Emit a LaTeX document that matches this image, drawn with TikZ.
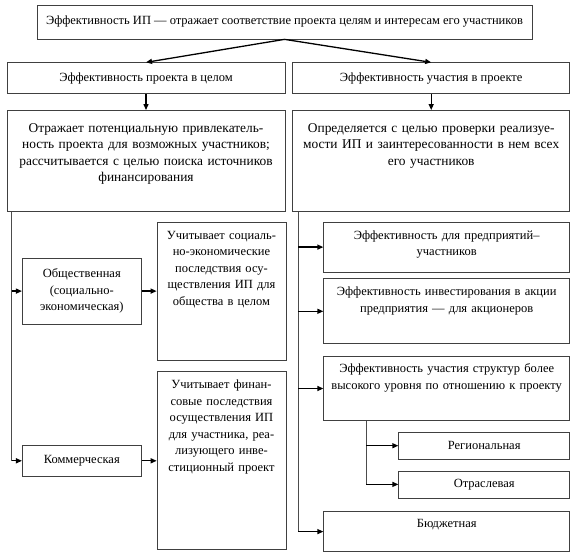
\documentclass[tikz,border=0pt]{standalone}
\usepackage{fontspec}
\setmainfont{Liberation Serif}
\usetikzlibrary{arrows.meta, positioning}

\tikzset{
  box/.style={draw=black!75, line width=0.7pt, rectangle, inner xsep=0pt, inner ysep=0pt,
    align=center, font=\fontsize{12.5}{16.5}\selectfont},
  tbox/.style={box, text width=#1, text height=17pt},
  bigtext/.style={font=\fontsize{13.4}{16.5}\selectfont},
  conn/.style={draw=black!70, line width=0.7pt},
  arr/.style={-{Triangle[length=6pt, width=5pt]}, line width=1.3pt},
}

\begin{document}
\begin{tikzpicture}
    \useasboundingbox (0,0) rectangle (574pt,-555pt);

    % top level
    \node[box, minimum width=495pt, minimum height=34pt] (eff) at (284.5pt,-22pt)
        {Эффективность ИП — отражает соответствие проекта целям и интересам его участников};
    \node[box, minimum width=278pt, minimum height=31pt, below=23pt of eff.south west, xshift=-30pt, anchor=north west] (projL)
        {Эффективность проекта в целом};
    \node[box, minimum width=277pt, minimum height=31pt, right=7pt of projL] (projR)
        {Эффективность участия в проекте};
    \node[tbox=278pt, bigtext, text height=22pt, text depth=79pt, below=16pt of projL] (descL)
        {Отражает потенциальную привлекатель-\\ность проекта для возможных участников;\\рассчитывается с целью поиска источников\\финансирования};
    \node[tbox=277pt, bigtext, text height=22pt, text depth=79pt, below=16pt of projR] (descR)
        {Определяется с целью проверки реализуе-\\мости ИП и заинтересованности в нем всех\\его участников};

    % left branch
    \node[tbox=129pt, text depth=121pt, below right=10pt and 150pt of descL.south west, anchor=north west] (obshD)
        {Учитывает социаль-\\но-экономические\\последствия осу-\\ществления ИП для\\общества в целом};
    \node[tbox=129pt, text depth=161pt, below=11pt of obshD] (kommD)
        {Учитывает финан-\\совые последствия\\осуществления ИП\\для участника, реа-\\лизующего инве-\\стиционный проект};
    \node[box, minimum width=119pt, minimum height=66pt, left=15pt of obshD] (obsh)
        {Общественная\\(социально-\\экономическая)};
    \node[box, minimum width=119pt, minimum height=31pt, left=15pt of kommD] (komm)
        {Коммерческая};

    % right branch
    \node[tbox=246pt, text depth=33pt, below right=10pt and 31pt of descR.south west, anchor=north west] (ucha1)
        {Эффективность для предприятий–\\участников};
    \node[tbox=246pt, text depth=48pt, below=6pt of ucha1] (ucha2)
        {Эффективность инвестирования в акции\\предприятия — для акционеров};
    \node[tbox=246pt, text height=16pt, text depth=48pt, below=12pt of ucha2] (ucha3)
        {Эффективность участия структур более\\высокого уровня по отношению к проекту};
    \node[box, minimum width=171pt, minimum height=27pt, below=11pt of ucha3.south east, anchor=north east] (reg)
        {Региональная};
    \node[box, minimum width=171pt, minimum height=27pt, below=11pt of reg] (otr)
        {Отраслевая};
    \node[tbox=246pt, text height=16pt, text depth=24pt, below=13pt of otr.south east, anchor=north east] (budg)
        {Бюджетная};

    % connectors
    \draw[arr] (eff.south) -- (projL.north);
    \draw[arr] (eff.south) -- (projR.north);
    \draw[arr] (projL) -- (descL);
    \draw[arr] (projR) -- (descR);

    \coordinate (trunkL) at ([xshift=5pt]descL.south west);
    \draw[conn] (trunkL) -- (trunkL |- komm.west);
    \draw[arr] (trunkL |- obsh.west) -- (obsh.west);
    \draw[arr] (trunkL |- komm.west) -- (komm.west);
    \draw[arr] (obsh) -- (obshD);
    \draw[arr] (komm) -- (kommD);

    \coordinate (trunkR) at ([xshift=6pt]descR.south west);
    \draw[conn] (trunkR) -- (trunkR |- budg.west);
    \foreach \n in {ucha1, ucha2, ucha3, budg}
        \draw[arr] (trunkR |- \n.west) -- (\n.west);

    \coordinate (trunkS) at ([xshift=43pt]ucha3.south west);
    \draw[conn] (trunkS) -- (trunkS |- otr.west);
    \draw[arr] (trunkS |- reg.west) -- (reg.west);
    \draw[arr] (trunkS |- otr.west) -- (otr.west);
\end{tikzpicture}
\end{document}
